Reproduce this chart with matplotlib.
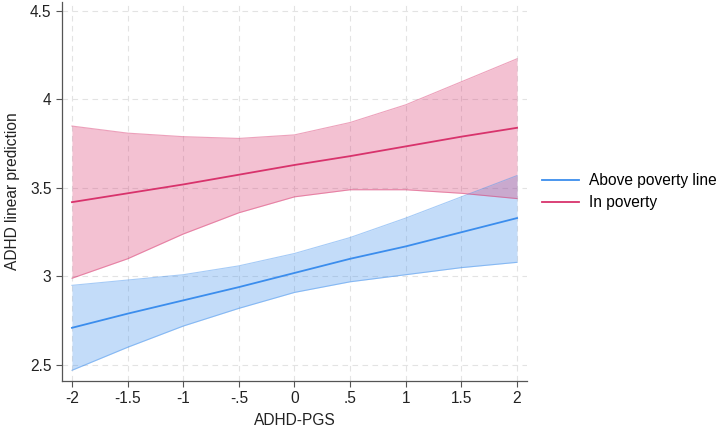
import matplotlib
matplotlib.use("Agg")
import matplotlib.pyplot as plt

plt.rcParams['font.family'] = ['Liberation Sans', 'DejaVu Sans']

pgs = [-2, -1.5, -1, -0.5, 0, 0.5, 1, 1.5, 2]
x_ticklabels = ["-2", "-1.5", "-1", "-.5", "0", ".5", "1", "1.5", "2"]
y_ticks = [2.5, 3, 3.5, 4, 4.5]
y_ticklabels = ["2.5", "3", "3.5", "4", "4.5"]

above_fit = [2.71, 2.79, 2.865, 2.94, 3.02, 3.10, 3.17, 3.25, 3.33]
above_lo = [2.47, 2.60, 2.72, 2.82, 2.91, 2.97, 3.01, 3.05, 3.08]
above_hi = [2.95, 2.98, 3.01, 3.06, 3.13, 3.22, 3.33, 3.45, 3.57]

pov_fit = [3.42, 3.47, 3.52, 3.575, 3.63, 3.68, 3.735, 3.79, 3.84]
pov_lo = [2.99, 3.10, 3.24, 3.36, 3.45, 3.49, 3.49, 3.47, 3.44]
pov_hi = [3.85, 3.81, 3.79, 3.78, 3.80, 3.87, 3.97, 4.10, 4.23]

blue = '#3b8ded'
pink = '#d8336c'
fs = 11.2

fig = plt.figure(figsize=(7.2, 4.28), dpi=100)
ax = fig.add_axes([0.086, 0.110, 0.646, 0.885])

ax.fill_between(pgs, above_lo, above_hi, color=blue, alpha=0.30, linewidth=0)
ax.plot(pgs, above_lo, color=blue, alpha=0.45, lw=0.8)
ax.plot(pgs, above_hi, color=blue, alpha=0.45, lw=0.8)
ax.fill_between(pgs, pov_lo, pov_hi, color=pink, alpha=0.30, linewidth=0)
ax.plot(pgs, pov_lo, color=pink, alpha=0.45, lw=0.8)
ax.plot(pgs, pov_hi, color=pink, alpha=0.45, lw=0.8)

l1, = ax.plot(pgs, above_fit, color=blue, lw=1.3, label='Above poverty line')
l2, = ax.plot(pgs, pov_fit, color=pink, lw=1.3, label='In poverty')

ax.set_xlim(-2.09, 2.09)
ax.set_ylim(2.41, 4.55)
ax.set_xticks(pgs)
ax.set_xticklabels(x_ticklabels)
ax.set_yticks(y_ticks)
ax.set_yticklabels(y_ticklabels)
ax.grid(True, color='#e3e3e3', linestyle=(0, (5, 4)), lw=0.8)
ax.set_axisbelow(True)
for s in ['top', 'right']:
    ax.spines[s].set_visible(False)
for s in ['left', 'bottom']:
    ax.spines[s].set_color('#555555')
    ax.spines[s].set_linewidth(0.9)
ax.tick_params(axis='both', labelsize=fs, colors='#555555', labelcolor='#222222', length=4, width=0.8)
ax.set_xlabel('ADHD-PGS', fontsize=fs, color='#222222', labelpad=5)
ax.set_ylabel('ADHD linear prediction', fontsize=fs, color='#222222', labelpad=7)

fig.legend(handles=[l1, l2], loc='center left', bbox_to_anchor=(0.733, 0.552),
           frameon=False, fontsize=fs, handlelength=2.4, labelspacing=0.45,
           handletextpad=0.65)

fig.savefig('out.png', dpi=100)
